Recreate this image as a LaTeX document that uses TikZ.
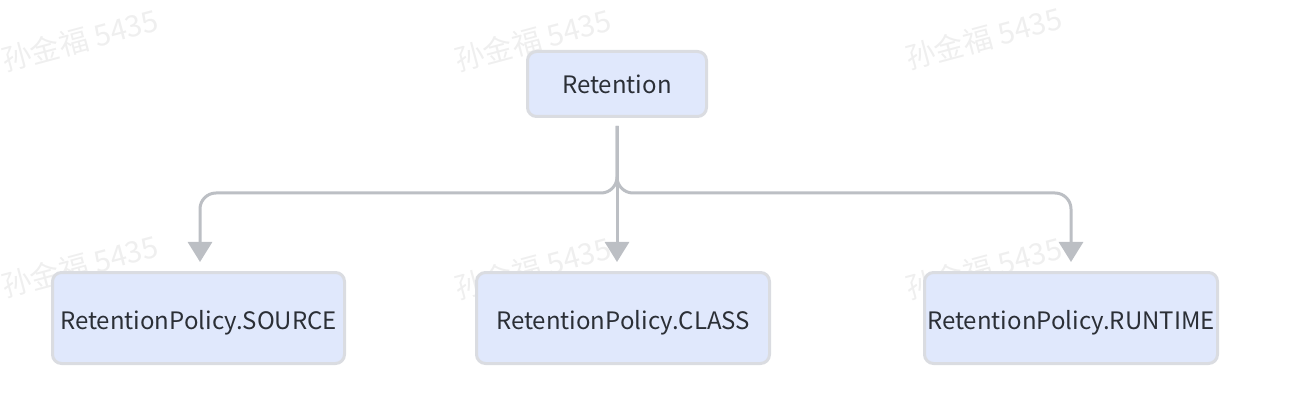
\documentclass[tikz,border=0pt]{standalone}
\usepackage{fontspec}
\setmainfont{Noto Sans CJK SC}
\usetikzlibrary{arrows.meta}
\definecolor{boxfill}{HTML}{E0E8FC}
\definecolor{boxline}{HTML}{DADCE1}
\definecolor{linkline}{HTML}{BCBFC4}
\definecolor{labeltext}{HTML}{2B2F36}
\definecolor{markgray}{HTML}{EFEFEF}
\tikzset{
  policy/.style={draw=boxline, fill=boxfill, line width=3pt, rounded corners=9pt,
    inner sep=0pt, text=labeltext, font=\fontsize{24}{28}\selectfont,
    text height=23pt, text depth=0pt},
  link/.style={draw=linkline, line width=3pt, rounded corners=16pt,
    -{Triangle[width=24pt,length=20pt]}, shorten <=8pt, shorten >=9pt},
  watermark/.style={text=markgray, rotate=15, font=\fontsize{29.5}{32}\selectfont},
}
\begin{document}
\begin{tikzpicture}[x=1pt,y=-1pt]
  \useasboundingbox (0,0) rectangle (1312,414);
  % watermarks
  \foreach \mx/\my [count=\i] in {80/40,533/40,984/38,80/266,533/268,984/268}
    \node[watermark] (mark\i) at (\mx,\my) {孙金福 5435};
  % boxes
  \node[policy, minimum width=179pt, minimum height=65pt, text height=20pt] (retention) at (617,84) {Retention};
  \node[policy, minimum width=292pt, minimum height=91pt] (source) at (198.5,318) {RetentionPolicy.SOURCE};
  \node[policy, minimum width=293pt, minimum height=91pt] (class) at (623,318) {RetentionPolicy.CLASS};
  \node[policy, minimum width=293pt, minimum height=91pt] (runtime) at (1071,318) {RetentionPolicy.RUNTIME};
  % links
  \begin{scope}
    \draw[link] (retention.south) -- ++(0,75) -| ([xshift=1.5pt]source.north);
    \draw[link] (retention.south) -- (retention.south |- class.north);
    \draw[link] (retention.south) -- ++(0,75) -| (runtime.north);
  \end{scope}
\end{tikzpicture}
\end{document}
